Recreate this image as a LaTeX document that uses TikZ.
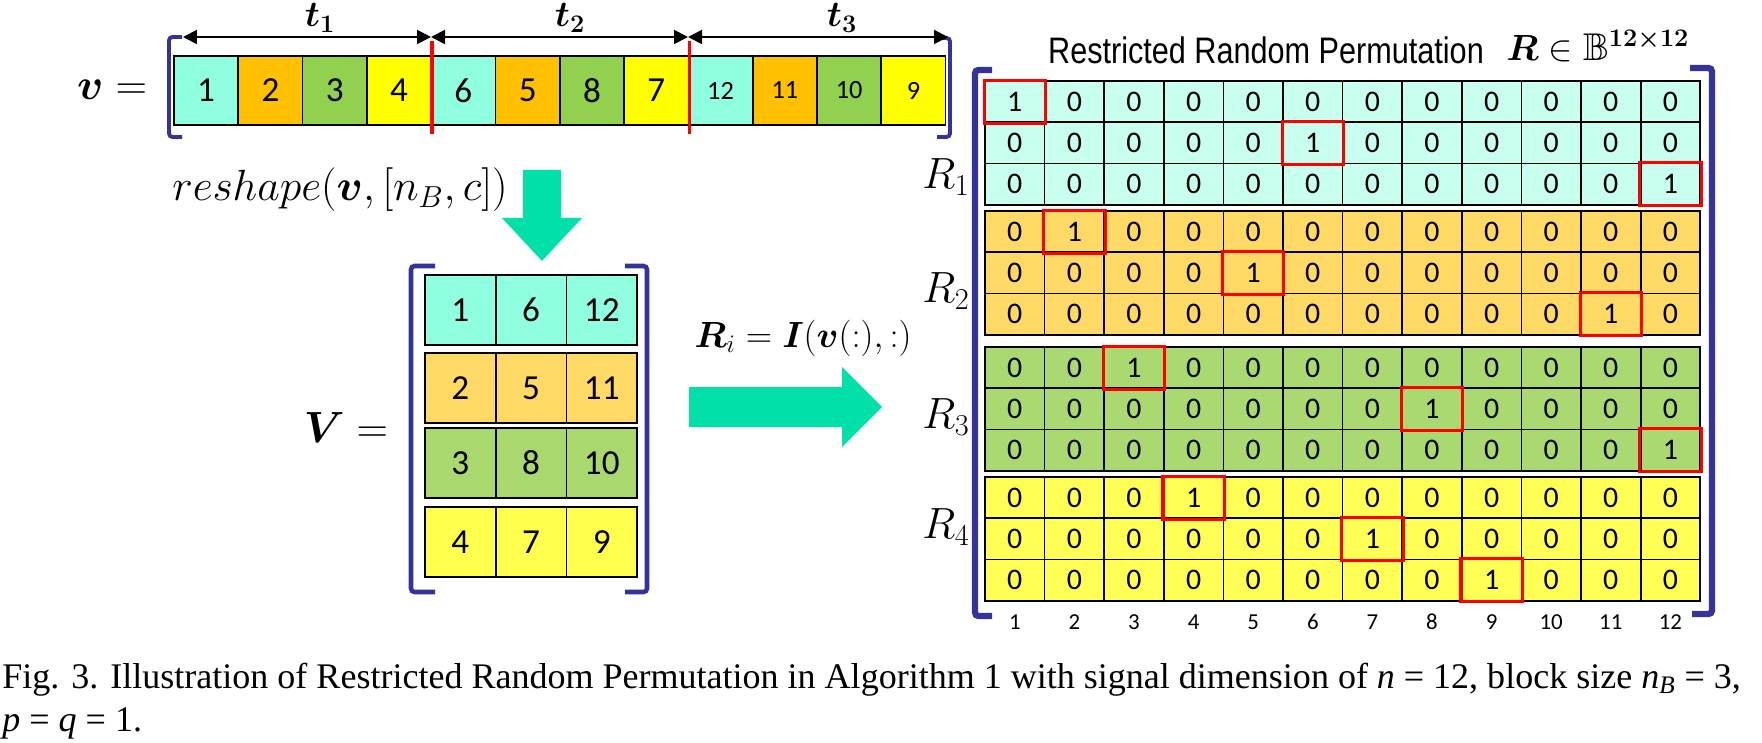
\documentclass[tikz,border=0pt]{standalone}
\usepackage{amsmath,amssymb}
\usepackage{fontspec}
\usepackage{tikz}
\usetikzlibrary{arrows.meta,calc,positioning}
\setmainfont{Liberation Serif}
\newfontfamily\cellfont{Carlito}
\newfontfamily\titlefont{Liberation Sans}
\definecolor{rrpCyan}{HTML}{8FFFE0}
\definecolor{rrpOrange}{HTML}{FFC000}
\definecolor{rrpGreen}{HTML}{92D050}
\definecolor{rrpYellow}{HTML}{FFFF00}
\definecolor{mCyan}{HTML}{8FFFE0}
\definecolor{mOrange}{HTML}{FFD966}
\definecolor{mGreen}{HTML}{A9D86E}
\definecolor{mYellow}{HTML}{FFFF4D}
\definecolor{rCyan}{HTML}{C8FFEE}
\definecolor{rOrange}{HTML}{FFD966}
\definecolor{rGreen}{HTML}{A9D970}
\definecolor{rYellow}{HTML}{FFFF55}
\definecolor{rrpBlue}{HTML}{333399}
\definecolor{rrpArrow}{HTML}{00E0A8}
\definecolor{rrpRed}{HTML}{FF0000}

\begin{document}
\begin{tikzpicture}[x=0.02cm,y=-0.02cm,
    vcell/.style={draw=black, line width=1pt, minimum width=1.286cm, minimum height=1.38cm, inner sep=0pt},
    mcell/.style={draw=black, line width=1pt, minimum width=1.414cm, minimum height=1.4cm, inner sep=0pt, font=\cellfont\fontsize{20}{21}\selectfont},
    rcell/.style={draw=black, line width=1pt, minimum width=1.192cm, minimum height=0.826cm, inner sep=0pt, font=\cellfont\fontsize{17}{18}\selectfont},
    hiBox/.style={draw=rrpRed, line width=1.8pt},
    sepLine/.style={draw=rrpRed, line width=1.8pt},
    brkt/.style={draw=rrpBlue, line width=2.2pt, rounded corners=2pt},
    spanArrow/.style={{Triangle[length=0.28cm,width=0.28cm]}-{Triangle[length=0.28cm,width=0.28cm]}, line width=1.1pt},
    bigArrow/.style={fill=rrpArrow, draw=none},
    colNum/.style={font=\cellfont\fontsize{13}{14}\selectfont, inner sep=0pt},
    rLab/.style={font=\fontsize{23}{24}\selectfont, inner sep=0pt}]
  \useasboundingbox (0,0) rectangle (1762,743);

  % vector v
  \node[font=\fontsize{26}{28}\selectfont] (vlab) at (112,90) {$\boldsymbol{v} =$};
  \foreach \val/\col/\sz [count=\i] in {1/rrpCyan/20,2/rrpOrange/20,3/rrpGreen/20,4/rrpYellow/20,
      6/rrpCyan/20,5/rrpOrange/20,8/rrpGreen/20,7/rrpYellow/20,
      12/rrpCyan/15,11/rrpOrange/15,10/rrpGreen/15,9/rrpYellow/15}
    \node[vcell, fill=\col, font=\cellfont\fontsize{\sz}{\sz}\selectfont] (v\i) at ({174+64.3*(\i-0.5)},90.5) {\val};
  \draw[sepLine] ([yshift=0.28cm]v4.north east) -- ([yshift=-0.16cm]v4.south east);
  \draw[sepLine] ([yshift=0.28cm]v8.north east) -- ([yshift=-0.16cm]v8.south east);
  \draw[brkt] (182,37) -- (169,37) -- (169,137) -- (182,137);
  \draw[brkt] (937,38) -- (950,38) -- (950,137) -- (937,137);

  % spans t1, t2, t3
  \coordinate (tA) at (183,37);
  \coordinate (tB) at (431,37);
  \coordinate (tC) at (688,37);
  \coordinate (tD) at (948,37);
  \draw[spanArrow] (tA) -- (tB);
  \draw[spanArrow] (tB) -- (tC);
  \draw[spanArrow] (tC) -- (tD);
  \node[font=\fontsize{21}{23}\selectfont] (t1) at (320,18) {$\boldsymbol{t_1}$};
  \node[font=\fontsize{21}{23}\selectfont] (t2) at (570,18) {$\boldsymbol{t_2}$};
  \node[font=\fontsize{21}{23}\selectfont] (t3) at (842,18) {$\boldsymbol{t_3}$};

  % reshape
  \node[font=\fontsize{24}{26}\selectfont] (reshape) at (340,190) {$reshape(\boldsymbol{v},[n_B,c])$};
  \draw[bigArrow] (523,170) -- (561,170) -- (561,218) -- (582,218) -- (542,261) -- (502,218) -- (523,218) -- cycle;

  % matrix V
  \node[font=\fontsize{24}{26}\selectfont] (Vlab) at (346,428) {$\boldsymbol{V} =$};
  \foreach \col/\yc/\vals [count=\r] in {mCyan/310/{1,6,12}, mOrange/388/{2,5,11}, mGreen/463/{3,8,10}, mYellow/542/{4,7,9}}
    \foreach \val [count=\k] in \vals
      \node[mcell, fill=\col] (V\r\k) at ({425+70.7*(\k-0.5)},\yc) {\val};
  \draw[brkt, line width=2.6pt] (435,266) -- (411,266) -- (411,592) -- (435,592);
  \draw[brkt, line width=2.6pt] (625,266) -- (647,266) -- (647,592) -- (625,592);

  % R_i arrow
  \node[font=\fontsize{21}{23}\selectfont] (Rdef) at (803,338) {$\boldsymbol{R}_i = \boldsymbol{I}(\boldsymbol{v}(:),:)$};
  \draw[bigArrow] (689,387) -- (842,387) -- (842,367) -- (882,407) -- (842,447) -- (842,427) -- (689,427) -- cycle;

  % matrix R
  \node[font=\titlefont\fontsize{21}{23}\selectfont, inner sep=0pt] (ttl) at (1266,50) {\scalebox{0.83}[1]{Restricted Random Permutation}};
  \node[font=\fontsize{22}{24}\selectfont, inner sep=0pt] (ttlMath) at (1598,46) {$\boldsymbol{R} \in \mathbb{B}^{\boldsymbol{12\times12}}$};
  \foreach \b/\col/\top/\oa/\ob/\oc in {1/rCyan/81/1/6/12, 2/rOrange/211/2/5/11, 3/rGreen/347/3/8/12, 4/rYellow/477/4/7/9}
    \foreach \rr/\one in {1/\oa,2/\ob,3/\oc}
      \foreach \cc in {1,...,12} {
        \pgfmathtruncatemacro\entry{\cc==\one ? 1 : 0}
        \node[rcell, fill=\col] (R\b-\rr-\cc) at ({985+59.6*(\cc-0.5)},{\top+41.3*(\rr-0.5)}) {\entry};
      }
  \foreach \b/\rr/\cc in {1/1/1,1/2/6,1/3/12,2/1/2,2/2/5,2/3/11,3/1/3,3/2/8,3/3/12,4/1/4,4/2/7,4/3/9}
    \draw[hiBox] (R\b-\rr-\cc.north west) rectangle (R\b-\rr-\cc.south east);
  \foreach \cc in {1,...,12}
    \node[colNum] (c\cc) at ({985+59.6*(\cc-0.5)},622) {\cc};
  \node[rLab] (lab1) at (946,177) {$R_1$};
  \node[rLab] (lab2) at (946,291) {$R_2$};
  \node[rLab] (lab3) at (946,417) {$R_3$};
  \node[rLab] (lab4) at (946,527) {$R_4$};
  \draw[brkt, line width=3.6pt] (992,70) -- (975,70) -- (975,616) -- (992,616);
  \draw[brkt, line width=3.6pt] (1690,68) -- (1712,68) -- (1712,614) -- (1692,614);

  % caption
  \node[anchor=base west, inner sep=0pt, font=\fontsize{20.5}{24}\selectfont] (cap1) at (2,688)
    {Fig. 3. Illustration of Restricted Random Permutation in Algorithm 1 with signal dimension of \textit{n} = 12, block size \textit{n}\textsubscript{\textit{B}} = 3,};
  \node[anchor=base west, inner sep=0pt, font=\fontsize{20.5}{24}\selectfont] (cap2) at (2,731)
    {\textit{p} = \textit{q} = 1.};
\end{tikzpicture}
\end{document}
